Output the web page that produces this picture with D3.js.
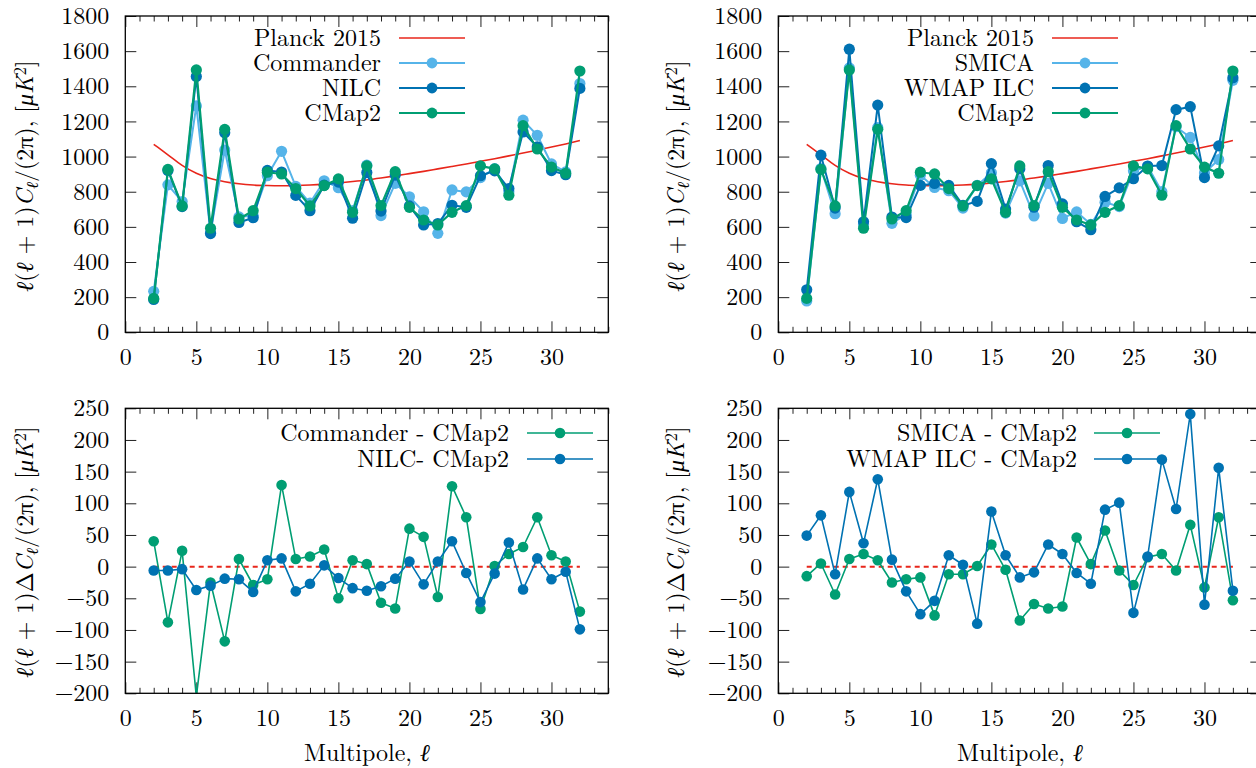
<!DOCTYPE html>
<html>
<head>
<meta charset="utf-8">
<script src="https://cdn.jsdelivr.net/npm/d3@7"></script>
<style>
  html, body { margin: 0; padding: 0; background: #fff; }
  svg { display: block; }
</style>
</head>
<body>
<svg id="chart" width="1256" height="768"></svg>
<script>
// ---------------- data ----------------
const ells = [2,3,4,5,6,7,8,9,10,11,12,13,14,15,16,17,18,19,20,21,22,23,24,25,26,27,28,29,30,31,32];
const planck2015 = [1070,1010,950,905,875,857,845,838,835,834,835,838,843,850,858,867,878,890,903,916,930,944,958,973,988,1004,1020,1037,1054,1072,1091];
const commander = [233,839,744,1288,567,1037,657,663,891,1030,830,735,862,823,693,951,664,848,771,686,563,810,799,880,931,800,1207,1121,958,913,1416];
const nilc      = [187,921,715,1456,562,1136,625,652,921,912,779,692,837,855,649,909,690,895,719,611,619,723,711,891,919,818,1140,1056,920,897,1388];
const smica     = [178,932,675,1505,612,1165,620,672,894,824,806,707,836,908,678,862,662,848,648,685,615,740,715,918,945,800,1170,1109,907,983,1434];
const wmapIlc   = [242,1008,707,1611,629,1293,656,653,836,847,836,722,745,960,701,930,712,949,731,629,584,773,822,874,946,949,1267,1284,880,1061,1449];
const cmap2     = [193,927,719,1493,592,1155,645,692,911,901,818,719,835,873,683,947,721,914,711,639,611,683,721,947,930,780,1176,1043,940,905,1487];

const commanderMinusCmap2 = [40,-88,25,-205,-25,-118,12,-29,-20,129,12,16,27,-50,10,4,-57,-66,60,47,-48,127,78,-67,1,20,31,78,18,8,-71];
const nilcMinusCmap2      = [-6,-6,-4,-37,-30,-19,-20,-40,10,13,-39,-27,2,-18,-34,-38,-31,-19,8,-28,8,40,-10,-56,-11,38,-36,13,-20,-8,-99];
const smicaMinusCmap2     = [-15,5,-44,12,20,10,-25,-20,-17,-77,-12,-12,1,35,-5,-85,-59,-66,-63,46,4,57,-6,-29,15,20,-6,66,-33,78,-53];
const wmapMinusCmap2      = [49,81,-12,118,37,138,11,-39,-75,-54,18,3,-90,87,18,-17,-9,35,20,-10,-27,90,101,-73,16,169,91,241,-60,156,-38];

const zeroLine = [0, 0];
const zeroLineEll = [2, 32];

const xTicksMajor = [0,5,10,15,20,25,30];
const yTicksTop = [0,200,400,600,800,1000,1200,1400,1600,1800];
const yTicksBottom = [-200,-150,-100,-50,0,50,100,150,200,250];

const colors = { planck: "#e8261b", light: "#56b4e9", dark: "#0072b2", green: "#009e73" };

// ---------------- layout ----------------
const svg = d3.select("#chart");
const FS = 24;
const FONT = '"Latin Modern Roman", "CMU Serif", "Liberation Serif", serif';

const panels = [
  { id: "tl", x0: 125.3, x1: 608.3, y0: 16, y1: 332.3, ydom: [0,1800], yticks: yTicksTop },
  { id: "tr", x0: 778.3, x1: 1261.3, y0: 16, y1: 332.3, ydom: [0,1800], yticks: yTicksTop },
  { id: "bl", x0: 125.3, x1: 608.3, y0: 408.3, y1: 693.3, ydom: [-200,250], yticks: yTicksBottom },
  { id: "br", x0: 778.3, x1: 1261.3, y0: 408.3, y1: 693.3, ydom: [-200,250], yticks: yTicksBottom }
];

function setupPanel(p) {
  p.x = d3.scaleLinear().domain([0,34]).range([p.x0, p.x1]);
  p.y = d3.scaleLinear().domain(p.ydom).range([p.y1, p.y0]);
  const g = svg.append("g").attr("class", "panel-" + p.id);
  p.g = g;
  svg.append("clipPath").attr("id", "clip-" + p.id)
    .append("rect").attr("x", p.x0).attr("y", p.y0).attr("width", p.x1 - p.x0).attr("height", p.y1 - p.y0);

  const minor = d3.range(0, 35, 1).filter(v => v % 5 !== 0);
  const tickStyle = sel => {
    sel.select(".domain").remove();
    sel.selectAll(".tick line").attr("stroke", "#222").attr("stroke-width", 1);
    sel.selectAll(".tick text").style("font-size", FS + "px").style("font-family", FONT).style("fill", "#000");
  };
  g.append("g").attr("transform", `translate(0,${p.y1})`)
    .call(d3.axisBottom(p.x).tickValues(xTicksMajor).tickSize(-11).tickSizeOuter(0).tickPadding(16).tickFormat(d3.format("d")))
    .call(tickStyle);
  g.append("g").attr("transform", `translate(0,${p.y1})`)
    .call(d3.axisBottom(p.x).tickValues(minor).tickSize(-5.5).tickSizeOuter(0).tickFormat(""))
    .call(tickStyle);
  g.append("g").attr("transform", `translate(0,${p.y0})`)
    .call(d3.axisTop(p.x).tickValues(xTicksMajor).tickSize(-11).tickSizeOuter(0).tickFormat(""))
    .call(tickStyle);
  g.append("g").attr("transform", `translate(0,${p.y0})`)
    .call(d3.axisTop(p.x).tickValues(minor).tickSize(-5.5).tickSizeOuter(0).tickFormat(""))
    .call(tickStyle);
  g.append("g").attr("transform", `translate(${p.x0},0)`)
    .call(d3.axisLeft(p.y).tickValues(p.yticks).tickSize(-11).tickSizeOuter(0).tickPadding(16).tickFormat(d3.format("d")))
    .call(tickStyle);
  g.append("g").attr("transform", `translate(${p.x1},0)`)
    .call(d3.axisRight(p.y).tickValues(p.yticks).tickSize(-11).tickSizeOuter(0).tickFormat(""))
    .call(tickStyle);

  p.plot = g.append("g").attr("clip-path", `url(#clip-${p.id})`);
}

function drawSeries(p, values, color, width, r) {
  const pts = ells.map((l, i) => [l, values[i]]);
  const line = d3.line().x(d => p.x(d[0])).y(d => p.y(d[1]));
  p.plot.append("path").datum(pts).attr("d", line)
    .attr("fill", "none").attr("stroke", color).attr("stroke-width", width).attr("stroke-linejoin", "round");
  p.plot.append("g").selectAll("circle")
    .data(pts.filter(d => d[1] >= p.ydom[0] && d[1] <= p.ydom[1]))
    .join("circle")
    .attr("cx", d => p.x(d[0])).attr("cy", d => p.y(d[1])).attr("r", r).attr("fill", color);
}

function drawPlanck(p) {
  const pts = ells.map((l, i) => [l, planck2015[i]]);
  const line = d3.line().curve(d3.curveMonotoneX).x(d => p.x(d[0])).y(d => p.y(d[1]));
  p.plot.append("path").datum(pts).attr("d", line)
    .attr("fill", "none").attr("stroke", colors.planck).attr("stroke-width", 1.6);
}

function drawZero(p) {
  const pts = zeroLineEll.map((l, i) => [l, zeroLine[i]]);
  const line = d3.line().x(d => p.x(d[0])).y(d => p.y(d[1]));
  p.plot.append("path").datum(pts).attr("d", line)
    .attr("fill", "none").attr("stroke", colors.planck).attr("stroke-width", 2).attr("stroke-dasharray", "5,4");
}

function drawFrame(p) {
  p.g.append("rect").attr("x", p.x0).attr("y", p.y0).attr("width", p.x1 - p.x0).attr("height", p.y1 - p.y0)
    .attr("fill", "none").attr("stroke", "#000").attr("stroke-width", 1.3);
}

function txt(sel) {
  return sel.style("font-family", FONT).style("font-size", FS + "px").style("fill", "#000");
}

function legend(p, items, textRight, lineX0, lineX1, rowY) {
  items.forEach((it, i) => {
    const y = rowY[i];
    txt(p.g.append("text")).attr("x", textRight).attr("y", y).attr("dy", "0.33em")
      .attr("text-anchor", "end").text(it.label);
    p.g.append("line").attr("x1", lineX0).attr("x2", lineX1).attr("y1", y).attr("y2", y)
      .attr("stroke", it.color).attr("stroke-width", it.w);
    if (it.r) p.g.append("circle").attr("cx", (lineX0 + lineX1) / 2).attr("cy", y).attr("r", it.r).attr("fill", it.color);
  });
}

function yLabel(cx, cy, delta) {
  const t = txt(svg.append("text")).attr("transform", `translate(${cx},${cy}) rotate(-90)`)
    .attr("text-anchor", "middle").attr("dy", "0.35em");
  const parts = [
    ["ℓ", true], ["(", false], ["ℓ", true], [" + 1)", false],
    [delta ? "Δ" : "", false], ["C", true]
  ];
  parts.forEach(([s, it]) => { if (s) t.append("tspan").style("font-style", it ? "italic" : "normal").text(s); });
  t.append("tspan").style("font-style", "italic").style("font-size", (FS * 0.7) + "px").attr("dy", "0.3em").text("ℓ");
  t.append("tspan").attr("dy", "-0.21em").text("/(2π), [");
  t.append("tspan").style("font-style", "italic").text("μK");
  t.append("tspan").style("font-size", (FS * 0.7) + "px").attr("dy", "-0.45em").text("2");
  t.append("tspan").attr("dy", "0.31em").text("]");
}

function xLabel(cx, y) {
  const t = txt(svg.append("text")).attr("x", cx).attr("y", y).attr("text-anchor", "middle");
  t.append("tspan").text("Multipole, ");
  t.append("tspan").style("font-style", "italic").text("ℓ");
}

panels.forEach(setupPanel);
const [tl, tr, bl, br] = panels;

drawPlanck(tl);
drawSeries(tl, commander, colors.light, 2, 5.6);
drawSeries(tl, nilc, colors.dark, 2, 5.6);
drawSeries(tl, cmap2, colors.green, 2.2, 5.6);
drawFrame(tl);
legend(tl, [
  { label: "Planck 2015", color: colors.planck, w: 1.6 },
  { label: "Commander", color: colors.light, w: 2, r: 5.4 },
  { label: "NILC", color: colors.dark, w: 2, r: 5.4 },
  { label: "CMap2", color: colors.green, w: 2, r: 5.4 }
], 381, 399, 465, [38, 63, 88, 113]);

drawPlanck(tr);
drawSeries(tr, smica, colors.light, 2, 5.6);
drawSeries(tr, wmapIlc, colors.dark, 2, 5.6);
drawSeries(tr, cmap2, colors.green, 2.2, 5.6);
drawFrame(tr);
legend(tr, [
  { label: "Planck 2015", color: colors.planck, w: 1.6 },
  { label: "SMICA", color: colors.light, w: 2, r: 5.4 },
  { label: "WMAP ILC", color: colors.dark, w: 2, r: 5.4 },
  { label: "CMap2", color: colors.green, w: 2, r: 5.4 }
], 1034, 1052, 1118, [38, 63, 88, 113]);

drawZero(bl);
drawSeries(bl, commanderMinusCmap2, colors.green, 1.6, 5.3);
drawSeries(bl, nilcMinusCmap2, colors.dark, 1.6, 5.3);
drawFrame(bl);
legend(bl, [
  { label: "Commander - CMap2", color: colors.green, w: 1.6, r: 5.3 },
  { label: "NILC- CMap2", color: colors.dark, w: 1.6, r: 5.3 }
], 509, 527, 593, [433, 459]);

drawZero(br);
drawSeries(br, smicaMinusCmap2, colors.green, 1.6, 5.3);
drawSeries(br, wmapMinusCmap2, colors.dark, 1.6, 5.3);
drawFrame(br);
legend(br, [
  { label: "SMICA - CMap2", color: colors.green, w: 1.6, r: 5.3 },
  { label: "WMAP ILC - CMap2", color: colors.dark, w: 1.6, r: 5.3 }
], 1077, 1094, 1160, [433, 459]);

yLabel(25, 176, false);
yLabel(676, 176, false);
yLabel(25, 552, true);
yLabel(676, 552, true);
xLabel(367, 761);
xLabel(1020, 761);
</script>
</body>
</html>
